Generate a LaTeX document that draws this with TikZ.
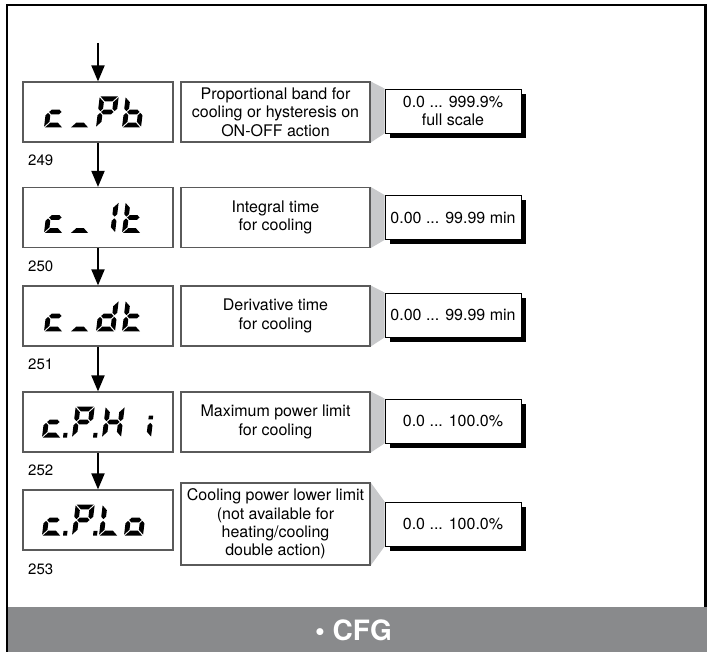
\documentclass[tikz,border=0pt]{standalone}
\usepackage{fontspec}
\setmainfont{TeX Gyre Heros}
\usetikzlibrary{arrows.meta,shadows,backgrounds}

\definecolor{bandgray}{RGB}{137,138,140}
\definecolor{wedgegray}{RGB}{200,201,203}
\definecolor{boxline}{RGB}{90,90,90}

% seven-segment display pieces (local units: pt, y pointing up, baseline at 0,
% cell 19 wide and 31 high, strokes 4.8 thick)
\expandafter\def\csname segxa\endcsname{\fill (0.9,31) -- (18.1,31) -- (13.3,26.2) -- (5.7,26.2) -- cycle;}
\expandafter\def\csname segxd\endcsname{\fill (0.9,0) -- (18.1,0) -- (13.3,4.8) -- (5.7,4.8) -- cycle;}
\expandafter\def\csname segxg\endcsname{\fill (3.3,15.5) -- (5.7,17.9) -- (13.3,17.9) -- (15.7,15.5) -- (13.3,13.1) -- (5.7,13.1) -- cycle;}
\expandafter\def\csname segxf\endcsname{\fill (0,30.1) -- (4.8,25.3) -- (4.8,18.8) -- (2.4,16.4) -- (0,18.8) -- cycle;}
\expandafter\def\csname segxe\endcsname{\fill (0,0.9) -- (4.8,5.7) -- (4.8,12.2) -- (2.4,14.6) -- (0,12.2) -- cycle;}
\expandafter\def\csname segxb\endcsname{\fill (19,30.1) -- (14.2,25.3) -- (14.2,18.8) -- (16.6,16.4) -- (19,18.8) -- cycle;}
\expandafter\def\csname segxc\endcsname{\fill (19,0.9) -- (14.2,5.7) -- (14.2,12.2) -- (16.6,14.6) -- (19,12.2) -- cycle;}
\expandafter\def\csname segxp\endcsname{\fill (21,0) rectangle (25,4.6);}
\expandafter\def\csname segxj\endcsname{\fill (14.2,18.2) rectangle (18.6,22);}
% one display character: x, baseline y, list of lit segments
\newcommand\lcdglyph[3]{\begin{scope}[shift={(#1,#2)},yscale=-1,xslant=-0.12]
  \foreach \s in {#3}{\csname segx\s\endcsname}\end{scope}}

\tikzset{
  disp/.style={draw=boxline, line width=1.2pt, minimum width=150pt, minimum height=60pt, inner sep=0pt},
  descbox/.style={draw=boxline, line width=1.2pt, minimum width=189pt, minimum height=60pt,
    inner sep=0pt, align=center, font=\fontsize{16}{18.3}\selectfont},
  valbox/.style={draw=black, line width=0.9pt, fill=white, minimum width=136pt, minimum height=44pt,
    inner sep=0pt, align=center, font=\fontsize{16}{18.3}\selectfont,
    drop shadow={shadow xshift=5pt, shadow yshift=-5pt, fill=black, opacity=1}},
  flow/.style={line width=2pt, -{Triangle[length=16pt,width=13pt]}},
  parnum/.style={anchor=west, inner sep=0pt, font=\fontsize{15}{18}\selectfont},
}

\begin{document}
\begin{tikzpicture}[x=1pt,y=-1pt]
\useasboundingbox (0,0) rectangle (707,652);

% bottom title band and frame
\fill[bandgray] (8.25,607) rectangle (707,652);
\draw[line width=2.5pt] (7,652) -- (7,5) -- (705.5,5) -- (705.5,607);
\node[text=white, inner sep=0pt, font=\fontsize{28}{30}\selectfont\bfseries] (cfg) at (353.5,630) {\textbullet\ CFG};

% display boxes
\node[disp] (d1) at (98,112) {};
\node[disp] (d2) at (98,217.5) {};
\node[disp] (d3) at (98,316) {};
\node[disp] (d4) at (98,422) {};
\node[disp] (d5) at (98,520) {};

% description boxes
\node[descbox] (e1) at (275.5,112) {Proportional band for\\cooling or hysteresis on\\ON-OFF action};
\node[descbox] (e2) at (275.5,217.5) {Integral time\\for cooling};
\node[descbox] (e3) at (275.5,316) {Derivative time\\for cooling};
\node[descbox] (e4) at (275.5,422) {Maximum power limit\\for cooling};
\node[descbox, minimum height=82pt] (e5) at (275.5,524) {Cooling power lower limit\\(not available for\\heating/cooling\\double action)};

% value ranges
\node[valbox] (v1) at (453,111) {0.0 ... 999.9\%\\full scale};
\node[valbox] (v2) at (453,217.5) {0.00 ... 99.99 min};
\node[valbox] (v3) at (453,315) {0.00 ... 99.99 min};
\node[valbox] (v4) at (453,421) {0.0 ... 100.0\%};
\node[valbox] (v5) at (453,524) {0.0 ... 100.0\%};

% grey wedges joining descriptions to values
\begin{scope}[on background layer]
\foreach \i in {1,...,5}{
  \fill[wedgegray] (e\i.north east) -- (v\i.north west) -- (v\i.south west) -- (e\i.south east) -- cycle;}
\end{scope}

% parameter numbers
\node[parnum] (n249) at (28,160) {249};
\node[parnum] (n250) at (28,266) {250};
\node[parnum] (n251) at (28,364) {251};
\node[parnum] (n252) at (28,470) {252};
\node[parnum] (n253) at (28,569) {253};

% flow arrows
\coordinate (start) at (98,43);
\draw[flow] (start) -- (d1);
\draw[flow] (d1) -- (d2);
\draw[flow] (d2) -- (d3);
\draw[flow] (d3) -- (d4);
\draw[flow] (d4) -- (d5);

% display readouts
% c_Pb
\lcdglyph{44}{127.5}{g,e,d}
\lcdglyph{70}{127.5}{d}
\lcdglyph{96}{127.5}{a,b,f,g,e}
\lcdglyph{122}{127.5}{f,e,g,c,d}
% c_ It
\lcdglyph{44}{233}{g,e,d}
\lcdglyph{70}{233}{d}
\lcdglyph{96}{233}{b,c}
\lcdglyph{122}{233}{f,e,g,d}
% c_dt
\lcdglyph{44}{331.5}{g,e,d}
\lcdglyph{70}{331.5}{d}
\lcdglyph{96}{331.5}{b,c,g,e,d}
\lcdglyph{122}{331.5}{f,e,g,d}
% c.P.H i
\lcdglyph{42}{437.5}{g,e,d,p}
\lcdglyph{72}{437.5}{a,b,f,g,e,p}
\lcdglyph{102}{437.5}{f,e,b,c,g}
\lcdglyph{132}{437.5}{c,j}
% c.P.Lo
\lcdglyph{42}{535.5}{g,e,d,p}
\lcdglyph{72}{535.5}{a,b,f,g,e,p}
\lcdglyph{99}{535.5}{f,e,d}
\lcdglyph{124}{535.5}{g,e,c,d}
\end{tikzpicture}
\end{document}
